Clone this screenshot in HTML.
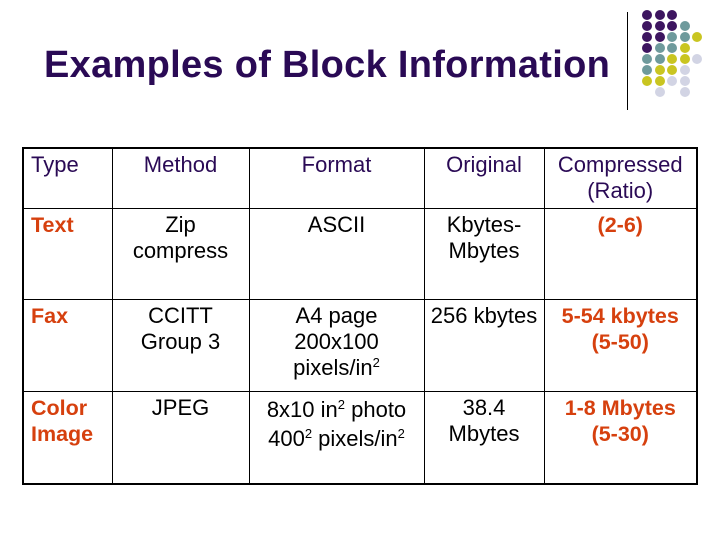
<!DOCTYPE html>
<html><head><meta charset="utf-8"><style>
body{margin:0;width:720px;height:540px;background:#fff;position:relative;overflow:hidden;font-family:"Liberation Sans",Arial,sans-serif}
#title{position:absolute;left:44px;top:44px;font-size:38px;font-weight:bold;color:#2a0a55;white-space:nowrap;letter-spacing:0.3px}
#vline{position:absolute;left:627px;top:12px;width:1px;height:98px;background:#000}
.dot{position:absolute;width:10px;height:10px;border-radius:50%}
table{position:absolute;left:22px;top:147px;border-collapse:collapse;border:2px solid #000}
td{border:1px solid #000;vertical-align:top;text-align:center;font-size:22px;line-height:26px;padding:3px 2px 0 2px;color:#000;box-sizing:border-box;white-space:nowrap}
tr.h td{color:#2a0a55}
td.l{text-align:left;padding-left:7px}
.r{color:#d6400e;font-weight:bold;font-size:21.5px}
sup{font-size:13px;vertical-align:8px;line-height:0}
</style></head><body>
<div id="title">Examples of Block Information</div>
<div id="vline"></div>
<div id="dots"></div>
<table>
<colgroup><col style="width:89px"><col style="width:137px"><col style="width:175px"><col style="width:120px"><col style="width:153px"></colgroup>
<tr class="h" style="height:60px">
<td class="l">Type</td>
<td>Method</td>
<td>Format</td>
<td>Original</td>
<td>Compressed<br>(Ratio)</td></tr>
<tr style="height:91px">
<td class="l r">Text</td>
<td>Zip<br>compress</td>
<td>ASCII</td>
<td>Kbytes-<br>Mbytes</td>
<td class="r">(2-6)</td></tr>
<tr style="height:92px">
<td class="l r">Fax</td>
<td>CCITT<br>Group 3</td>
<td>A4 page<br>200x100<br>pixels/in<sup>2</sup></td>
<td>256 kbytes</td>
<td class="r">5-54 kbytes<br>(5-50)</td></tr>
<tr style="height:93px">
<td class="l r">Color<br>Image</td>
<td>JPEG</td>
<td style="line-height:29px">8x10 in<sup>2</sup> photo<br>400<sup>2</sup> pixels/in<sup>2</sup></td>
<td>38.4<br>Mbytes</td>
<td class="r">1-8 Mbytes<br>(5-30)</td></tr>
</table>
<script>
var P='#3d1560',T='#6e9a9c',Y='#c9c521',L='#d2d4e4';
var grid=[[P,P,P],[P,P,P,T],[P,P,T,T,Y],[P,T,T,Y],[T,T,Y,Y,L],[T,Y,Y,L],[Y,Y,L,L],[0,L,0,L]];
var c=document.getElementById('dots');
grid.forEach(function(row,r){row.forEach(function(col,i){if(!col)return;
var d=document.createElement('div');d.className='dot';


d.style.left=(642+i*12.5)+'px';d.style.top=(10+r*11)+'px';d.style.background=col;c.appendChild(d);});});
</script>
</body></html>
